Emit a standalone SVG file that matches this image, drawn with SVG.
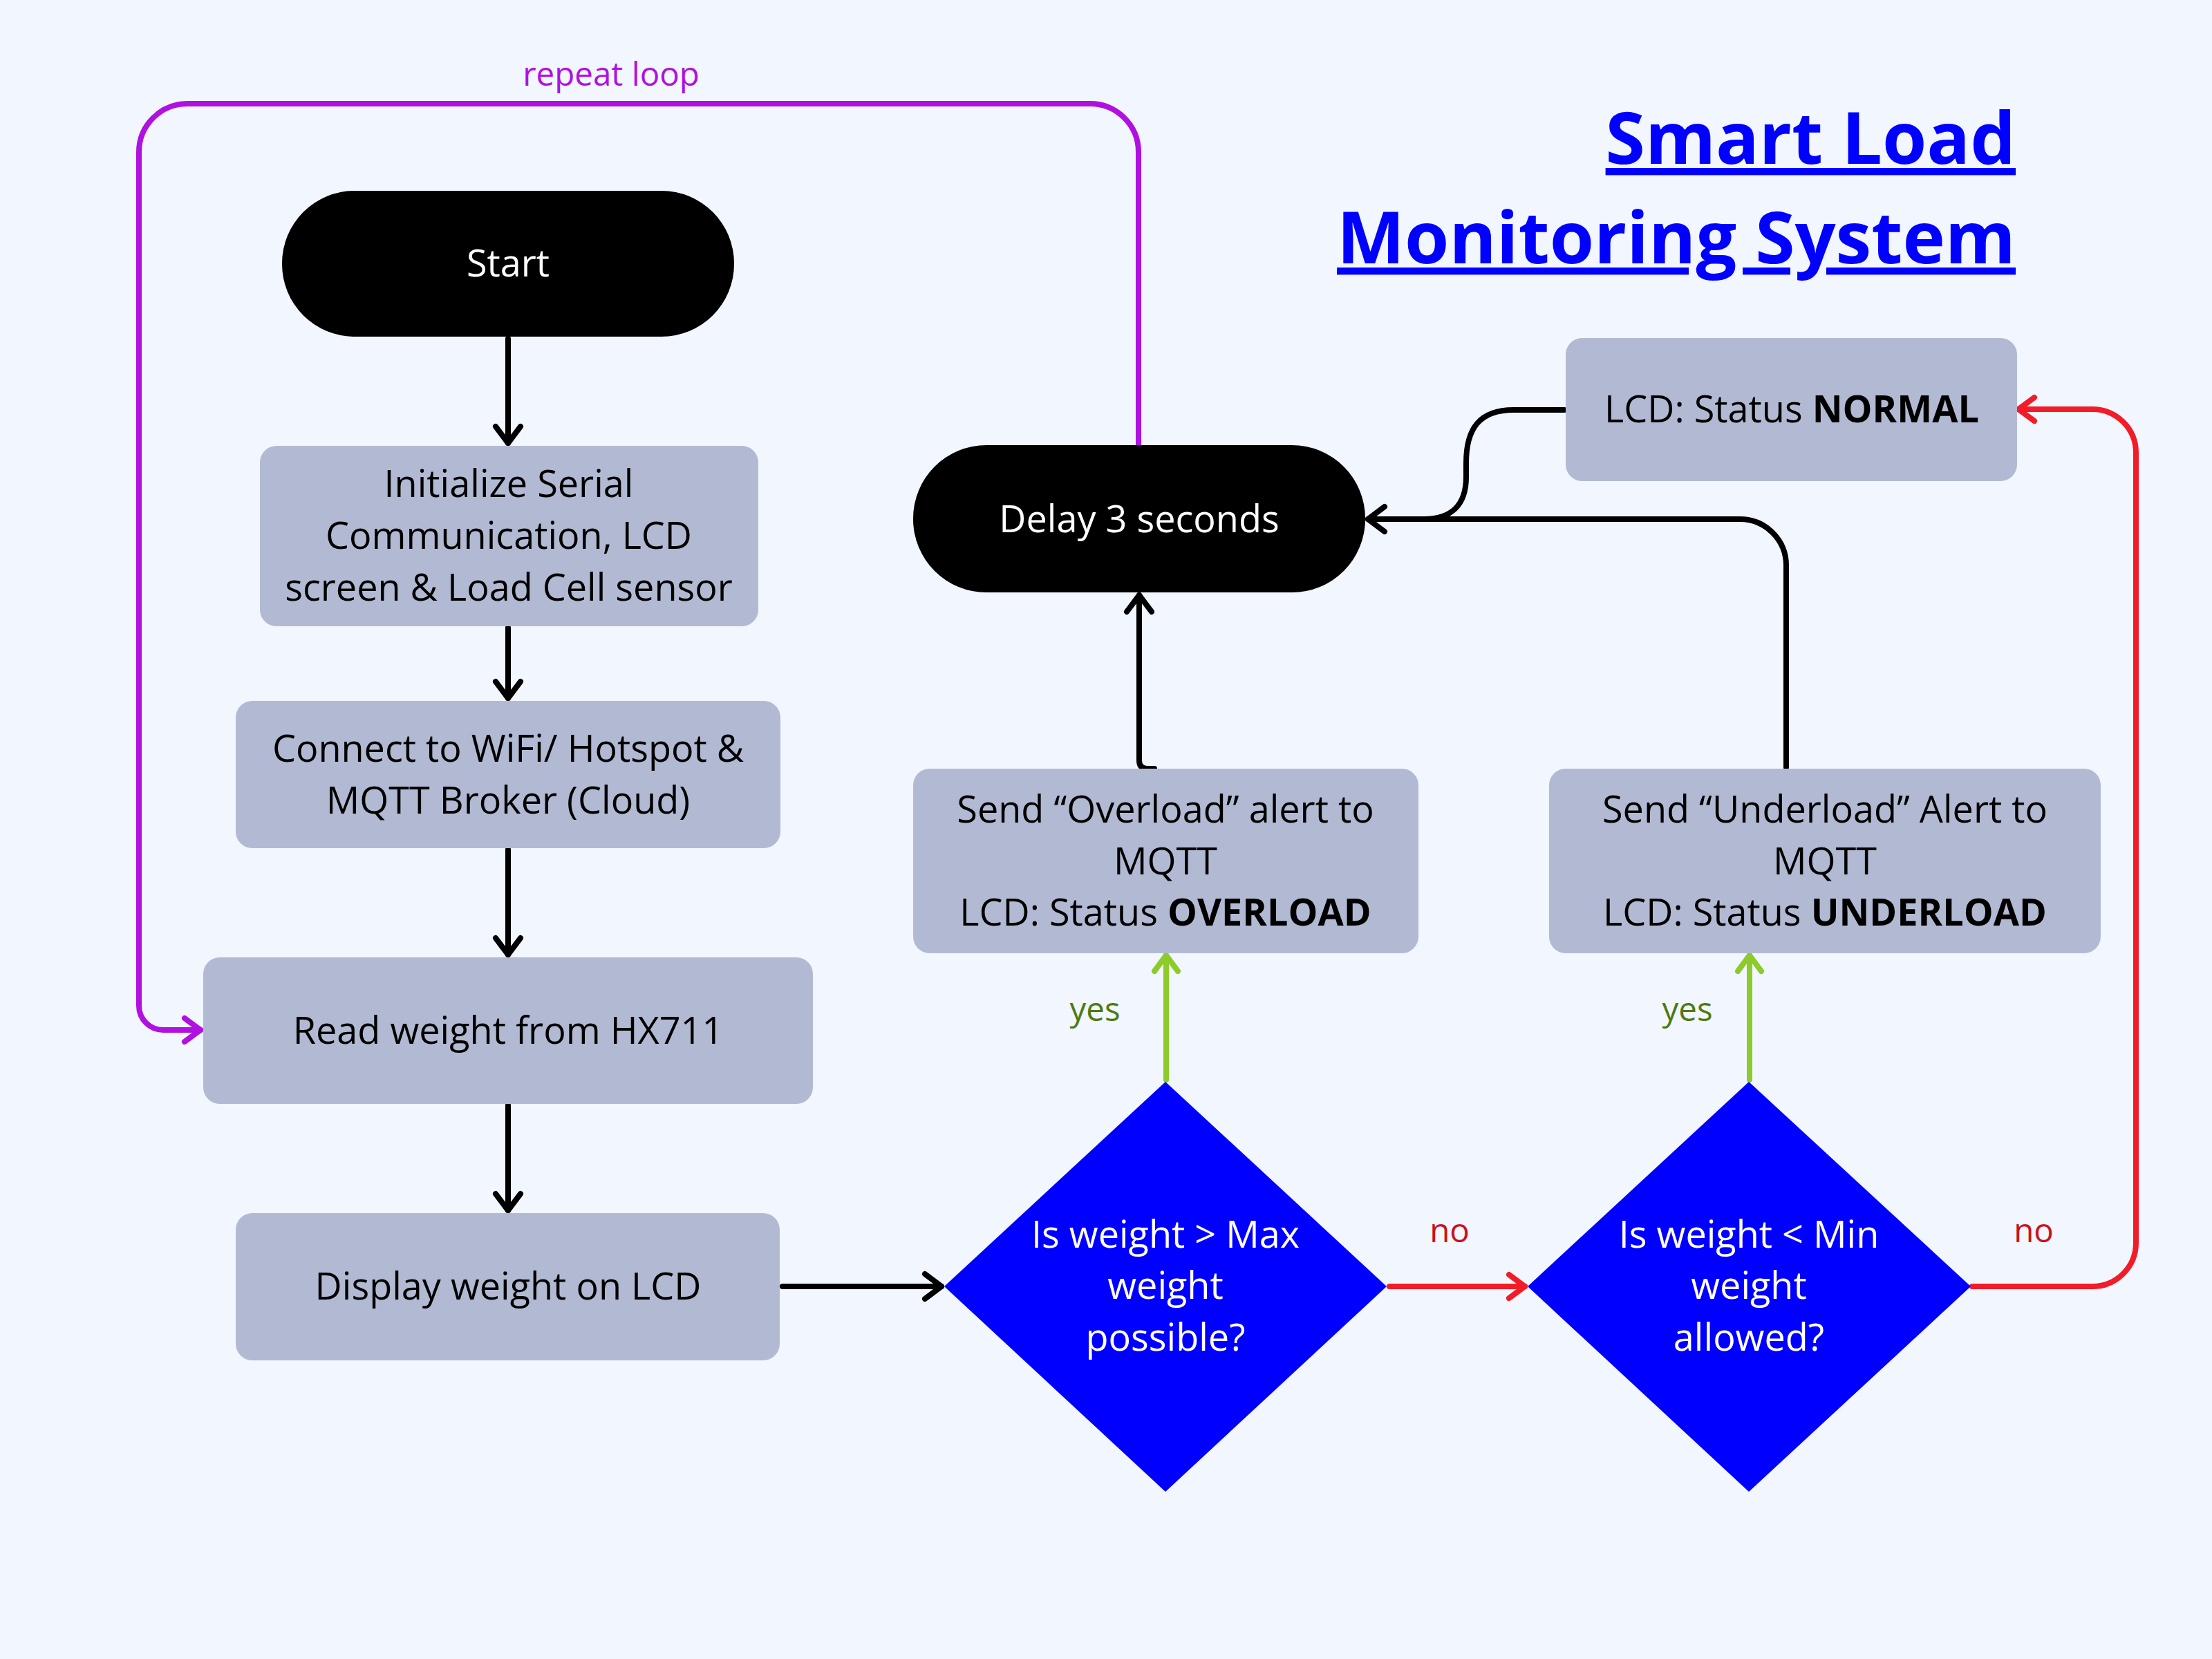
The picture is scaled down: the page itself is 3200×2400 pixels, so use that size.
<svg xmlns="http://www.w3.org/2000/svg" width="3200" height="2400" viewBox="0 0 3200 2400">
<style>
.bg{fill:#F2F6FE}
.box{fill:#B2BAD3}
.term{fill:#000}
.dia{fill:#0000FF}
text{font-family:"Open Sans","Noto Sans","Liberation Sans",sans-serif;font-size:54px;text-anchor:middle}
.dk{fill:#000}
.wt{fill:#fff}
.b{font-weight:700}
.title{font-weight:700;font-size:104px;fill:#0000FF;text-anchor:end;text-decoration:underline;text-decoration-thickness:9px;text-underline-offset:8px}
.lbl{font-size:47.5px}
.c{fill:none;stroke-width:8;stroke-linecap:round;stroke-linejoin:round}
.k{stroke:#000}
.r{stroke:#F21C28}
.g{stroke:#8DCB2A}
.p{stroke:#B010E0}
</style>
<defs>
<marker id="ak" viewBox="-34 -26 42 52" refX="0" refY="0" markerWidth="42" markerHeight="52" markerUnits="userSpaceOnUse" orient="auto"><path d="M-24,-18 L0,0 L-24,18" fill="none" stroke="#000" stroke-width="8" stroke-linecap="round" stroke-linejoin="round"/></marker>
<marker id="ar" viewBox="-34 -26 42 52" refX="0" refY="0" markerWidth="42" markerHeight="52" markerUnits="userSpaceOnUse" orient="auto"><path d="M-23,-17 L0,0 L-23,17" fill="none" stroke="#F21C28" stroke-width="8" stroke-linecap="round" stroke-linejoin="round"/></marker>
<marker id="ag" viewBox="-34 -26 42 52" refX="0" refY="0" markerWidth="42" markerHeight="52" markerUnits="userSpaceOnUse" orient="auto"><path d="M-23,-17 L0,0 L-23,17" fill="none" stroke="#8DCB2A" stroke-width="8" stroke-linecap="round" stroke-linejoin="round"/></marker>
<marker id="ap" viewBox="-34 -26 42 52" refX="0" refY="0" markerWidth="42" markerHeight="52" markerUnits="userSpaceOnUse" orient="auto"><path d="M-23,-17 L0,0 L-23,17" fill="none" stroke="#B010E0" stroke-width="8" stroke-linecap="round" stroke-linejoin="round"/></marker>
</defs>
<rect class="bg" x="0" y="0" width="3200" height="2400"/>

<g id="title">
<text class="title" x="2916" y="237">Smart Load</text>
<text class="title" x="2916" y="381">Monitoring System</text>
</g>

<g id="connectors">
<path class="c k" d="M735,490 V641" marker-end="url(#ak)"/>
<path class="c k" d="M735,908 V1010" marker-end="url(#ak)"/>
<path class="c k" d="M735,1229 V1381" marker-end="url(#ak)"/>
<path class="c k" d="M735,1599 V1751" marker-end="url(#ak)"/>
<path class="c k" d="M1132,1861 H1362" marker-end="url(#ak)"/>
<path class="c r" d="M2010,1861 H2206" marker-end="url(#ar)"/>
<path class="c r" d="M2853,1861 H3027 A63,63 0 0 0 3090,1798 V655 A63,63 0 0 0 3027,592 H2920" marker-end="url(#ar)"/>
<path class="c g" d="M1687,1562 V1382" marker-end="url(#ag)"/>
<path class="c g" d="M2531,1562 V1382" marker-end="url(#ag)"/>
<path class="c k" d="M1670,1112 H1660 Q1648,1112 1648,1100 V861" marker-end="url(#ak)"/>
<path class="c k" d="M2584,1110 V818 A67,67 0 0 0 2517,751 H1979" marker-end="url(#ak)"/>
<path class="c k" d="M2263,593 H2190 C2140,593 2121,620 2121,670 V690 C2121,730 2100,751 2060,751"/>
<path class="c p" d="M1647,643 V220 A70,70 0 0 0 1577,150 H271 A70,70 0 0 0 201,220 V1455 A35,35 0 0 0 236,1490 H290" marker-end="url(#ap)"/>
<text class="lbl" x="884" y="124" fill="#B010E0">repeat loop</text>
<text class="lbl" x="1584" y="1477" fill="#4E7A10">yes</text>
<text class="lbl" x="2441" y="1477" fill="#4E7A10">yes</text>
<text class="lbl" x="2097" y="1797" fill="#CC1020">no</text>
<text class="lbl" x="2942" y="1797" fill="#CC1020">no</text>
</g>

<g id="start">
<rect class="term" x="408" y="276" width="654" height="211" rx="105" ry="105"/>
<text class="wt" x="735" y="400">Start</text>
</g>

<g id="init">
<rect class="box" x="376" y="645" width="721" height="261" rx="24"/>
<text class="dk" x="736" y="719">Initialize Serial</text>
<text class="dk" x="736" y="794">Communication, LCD</text>
<text class="dk" x="736" y="869">screen &amp; Load Cell sensor</text>
</g>

<g id="connect">
<rect class="box" x="341" y="1014" width="788" height="213" rx="24"/>
<text class="dk" x="735" y="1102">Connect to WiFi/ Hotspot &amp;</text>
<text class="dk" x="735" y="1177">MQTT Broker (Cloud)</text>
</g>

<g id="read">
<rect class="box" x="294" y="1385" width="882" height="212" rx="24"/>
<text class="dk" x="735" y="1510">Read weight from HX711</text>
</g>

<g id="display">
<rect class="box" x="341" y="1755" width="787" height="213" rx="24"/>
<text class="dk" x="735" y="1880">Display weight on LCD</text>
</g>

<g id="decision-max">
<polygon class="dia" points="1686,1565 2006,1861 1686,2158 1366,1861"/>
<text class="wt" x="1686" y="1805">Is weight &gt; Max</text>
<text class="wt" x="1686" y="1879">weight</text>
<text class="wt" x="1686" y="1954">possible?</text>
</g>

<g id="decision-min">
<polygon class="dia" points="2530,1565 2851,1861 2530,2158 2210,1861"/>
<text class="wt" x="2530" y="1805">Is weight &lt; Min</text>
<text class="wt" x="2530" y="1879">weight</text>
<text class="wt" x="2530" y="1954">allowed?</text>
</g>

<g id="overload">
<rect class="box" x="1321" y="1112" width="731" height="267" rx="24"/>
<text class="dk" x="1686" y="1190">Send “Overload” alert to</text>
<text class="dk" x="1686" y="1265">MQTT</text>
<text class="dk" x="1686" y="1339">LCD: Status <tspan class="b">OVERLOAD</tspan></text>
</g>

<g id="underload">
<rect class="box" x="2241" y="1112" width="798" height="267" rx="24"/>
<text class="dk" x="2640" y="1190">Send “Underload” Alert to</text>
<text class="dk" x="2640" y="1265">MQTT</text>
<text class="dk" x="2640" y="1339">LCD: Status <tspan class="b">UNDERLOAD</tspan></text>
</g>

<g id="delay">
<rect class="term" x="1321" y="644" width="654" height="213" rx="106" ry="106"/>
<text class="wt" x="1648" y="770">Delay 3 seconds</text>
</g>

<g id="normal">
<rect class="box" x="2265" y="489" width="653" height="207" rx="24"/>
<text class="dk" x="2592" y="611">LCD: Status <tspan class="b">NORMAL</tspan></text>
</g>
</svg>
